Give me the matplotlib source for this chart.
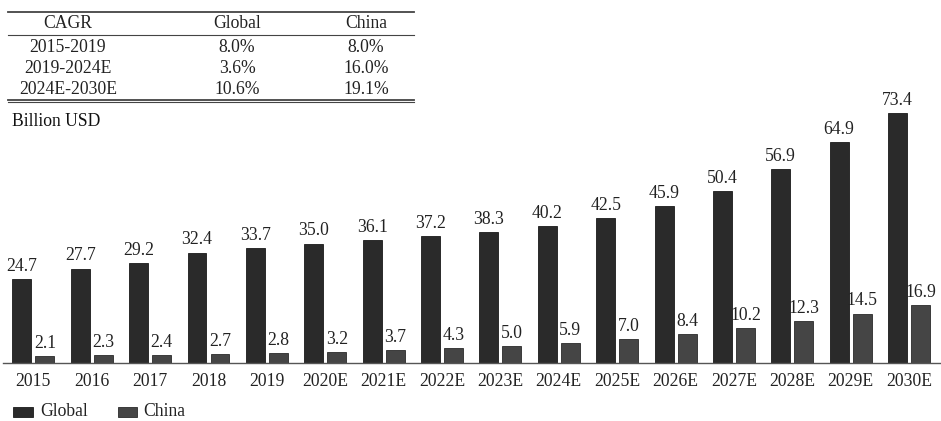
import matplotlib.pyplot as plt
from matplotlib.lines import Line2D
from matplotlib.patches import Rectangle
import numpy as np

plt.rcParams['font.family'] = ['Liberation Serif', 'DejaVu Serif']

years = ['2015', '2016', '2017', '2018', '2019', '2020E', '2021E', '2022E',
         '2023E', '2024E', '2025E', '2026E', '2027E', '2028E', '2029E', '2030E']
global_vals = [24.7, 27.7, 29.2, 32.4, 33.7, 35.0, 36.1, 37.2,
               38.3, 40.2, 42.5, 45.9, 50.4, 56.9, 64.9, 73.4]
china_vals = [2.1, 2.3, 2.4, 2.7, 2.8, 3.2, 3.7, 4.3,
              5.0, 5.9, 7.0, 8.4, 10.2, 12.3, 14.5, 16.9]

cagr_periods = ['2015-2019', '2019-2024E', '2024E-2030E']
cagr_global = ['8.0%', '3.6%', '10.6%']
cagr_china = ['8.0%', '16.0%', '19.1%']

c_global = '#2a2a2a'
c_china = '#454545'
txt = '#222222'
fs = 12.7

fig = plt.figure(figsize=(9.41, 4.21), dpi=100)
W, H = 941, 421
ax = fig.add_axes([3 / W, 1 - 363 / H, 937 / W, 263 / H])

x = np.arange(len(years))
w = 0.325
off = 0.197
b1 = ax.bar(x - off, global_vals, w, color=c_global, edgecolor='#1a1a1a', linewidth=0.6)
b2 = ax.bar(x + off, china_vals, w, color=c_china, edgecolor='#2a2a2a', linewidth=0.6)
ax.bar_label(b1, fmt='%.1f', padding=3, fontsize=fs, color=txt)
ax.bar_label(b2, fmt='%.1f', padding=3, fontsize=fs, color=txt)

ax.set_xlim(-0.52, 15.53)
ax.set_ylim(0, 263 / 3.41)
ax.set_xticks(x)
ax.set_xticklabels(years, fontsize=fs, color=txt)
ax.tick_params(axis='x', length=0, pad=7)
ax.set_yticks([])
for s in ['top', 'left', 'right']:
    ax.spines[s].set_visible(False)
ax.spines['bottom'].set_color('#555555')
ax.spines['bottom'].set_linewidth(1.0)

# CAGR table
def fy(py):
    return 1 - py / H

x0, x1 = 8 / W, 414 / W
fig.add_artist(Line2D([x0, x1], [fy(12), fy(12)], color='#444444', lw=1.3))
fig.add_artist(Line2D([x0, x1], [fy(35), fy(35)], color='#444444', lw=0.8))
fig.add_artist(Line2D([x0, x1], [fy(100), fy(100)], color='#444444', lw=1.3))
fig.add_artist(Line2D([x0, x1], [fy(102), fy(102)], color='#444444', lw=0.8))
cols = [68 / W, 237 / W, 366 / W]
headers = ['CAGR', 'Global', 'China']
for cx, h in zip(cols, headers):
    fig.text(cx, fy(23.5), h, ha='center', va='center', fontsize=fs, color=txt)
for i, (p, g, c) in enumerate(zip(cagr_periods, cagr_global, cagr_china)):
    yy = fy(47 + i * 21.5)
    fig.text(cols[0], yy, p, ha='center', va='center', fontsize=fs, color=txt)
    fig.text(cols[1], yy, g, ha='center', va='center', fontsize=fs, color=txt)
    fig.text(cols[2], yy, c, ha='center', va='center', fontsize=fs, color=txt)

fig.text(12 / W, fy(121), 'Billion USD', ha='left', va='center', fontsize=12.7,
         color='#111111')

# legend
fig.add_artist(Rectangle((13 / W, fy(417)), 20 / W, 10 / H, transform=fig.transFigure,
                         facecolor=c_global, edgecolor='#1a1a1a', lw=0.6))
fig.text(40 / W, fy(411), 'Global', ha='left', va='center', fontsize=fs, color=txt)
fig.add_artist(Rectangle((118 / W, fy(417)), 19 / W, 10 / H, transform=fig.transFigure,
                         facecolor=c_china, edgecolor='#2a2a2a', lw=0.6))
fig.text(143 / W, fy(411), 'China', ha='left', va='center', fontsize=fs, color=txt)

fig.savefig('out.png', dpi=100)
